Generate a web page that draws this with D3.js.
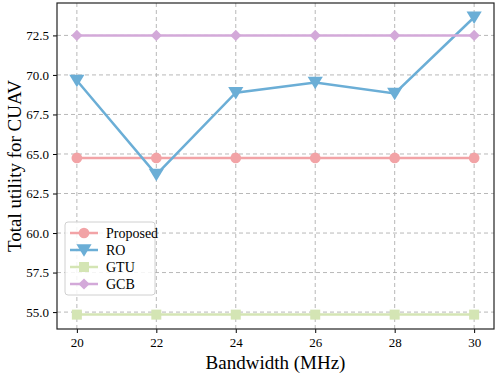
<!DOCTYPE html>
<html>
<head>
<meta charset="utf-8">
<script src="https://cdn.jsdelivr.net/npm/d3@7"></script>
<style>
  body { margin: 0; background: #fff; }
</style>
</head>
<body>
<div id="chart"></div>
<script>
const bandwidth = [20, 22, 24, 26, 28, 30];
const proposed = [64.75, 64.75, 64.75, 64.75, 64.75, 64.75];
const ro = [69.65, 63.7, 68.88, 69.52, 68.83, 73.65];
const gtu = [54.84, 54.84, 54.84, 54.84, 54.84, 54.84];
const gcb = [72.5, 72.5, 72.5, 72.5, 72.5, 72.5];
const yTicks = [55.0, 57.5, 60.0, 62.5, 65.0, 67.5, 70.0, 72.5];

const series = [
  { name: 'Proposed', values: proposed, color: '#f2a3a6', marker: d3.symbolCircle, size: 90 },
  { name: 'RO', values: ro, color: '#6baed6', marker: 'tri', size: 150 },
  { name: 'GTU', values: gtu, color: '#d4e5b4', marker: d3.symbolSquare, size: 100 },
  { name: 'GCB', values: gcb, color: '#d3a9d9', marker: d3.symbolDiamond2, size: 80 }
];

const width = 498, height = 374;
const margin = { top: 3, right: 4, bottom: 45, left: 57 };
const serif = "'Liberation Serif'";

const svg = d3.select('#chart').append('svg')
  .attr('width', width)
  .attr('height', height);

const x = d3.scaleLinear().domain([19.5, 30.5]).range([margin.left, width - margin.right]);
const y = d3.scaleLinear().domain([53.93, 74.55]).range([height - margin.bottom, margin.top]);

// grid
const grid = svg.append('g').attr('stroke', '#b0b0b0').attr('stroke-dasharray', '4,3').attr('stroke-width', 0.9);
grid.selectAll('.gx').data(bandwidth).enter().append('line')
  .attr('x1', d => x(d)).attr('x2', d => x(d))
  .attr('y1', margin.top).attr('y2', height - margin.bottom);
grid.selectAll('.gy').data(yTicks).enter().append('line')
  .attr('y1', d => y(d)).attr('y2', d => y(d))
  .attr('x1', margin.left).attr('x2', width - margin.right);

// axes
svg.append('g')
  .attr('transform', `translate(0,${height - margin.bottom})`)
  .call(d3.axisBottom(x).tickValues(bandwidth).tickSize(4).tickPadding(5).tickFormat(d3.format('d')))
  .call(g => g.select('.domain').remove())
  .selectAll('text')
  .style('font-family', serif)
  .style('font-size', '13px');

svg.append('g')
  .attr('transform', `translate(${margin.left},0)`)
  .call(d3.axisLeft(y).tickValues(yTicks).tickSize(4).tickPadding(4).tickFormat(d3.format('.1f')))
  .call(g => g.select('.domain').remove())
  .selectAll('text')
  .style('font-family', serif)
  .style('font-size', '13px');

const triangle = {
  draw(ctx, size) {
    const h = Math.sqrt(size) * 0.62;
    ctx.moveTo(-h, -h * 0.75);
    ctx.lineTo(h, -h * 0.75);
    ctx.lineTo(0, h * 0.9);
    ctx.closePath();
  }
};

const line = d3.line().x((d, i) => x(bandwidth[i])).y(d => y(d));

series.forEach(s => {
  const g = svg.append('g');
  g.append('path')
    .attr('d', line(s.values))
    .attr('fill', 'none')
    .attr('stroke', s.color)
    .attr('stroke-width', 2.5);
  const sym = d3.symbol().type(s.marker === 'tri' ? triangle : s.marker).size(s.size);
  g.selectAll('path.m').data(s.values).enter().append('path')
    .attr('class', 'm')
    .attr('transform', (d, i) => `translate(${x(bandwidth[i])},${y(d)})`)
    .attr('d', sym)
    .attr('fill', s.color);
});

// frame
svg.append('rect')
  .attr('x', margin.left).attr('y', margin.top)
  .attr('width', width - margin.left - margin.right)
  .attr('height', height - margin.top - margin.bottom)
  .attr('fill', 'none').attr('stroke', '#222').attr('stroke-width', 1.2);

// legend
const legend = svg.append('g').attr('transform', 'translate(65,222)');
legend.append('rect')
  .attr('width', 90).attr('height', 73).attr('rx', 3)
  .attr('fill', 'rgba(255,255,255,0.85)').attr('stroke', '#d0d0d0');
series.forEach((s, i) => {
  const ly = 11 + i * 17;
  legend.append('line')
    .attr('x1', 5).attr('x2', 33).attr('y1', ly).attr('y2', ly)
    .attr('stroke', s.color).attr('stroke-width', 2.5);
  legend.append('path')
    .attr('transform', `translate(19,${ly})`)
    .attr('d', d3.symbol().type(s.marker === 'tri' ? triangle : s.marker).size(s.size))
    .attr('fill', s.color);
  legend.append('text')
    .attr('x', 41).attr('y', ly).attr('dy', '0.35em')
    .style('font-family', serif)
    .style('font-size', '14px')
    .text(s.name);
});

// axis labels
svg.append('text')
  .attr('x', (margin.left + width - margin.right) / 2)
  .attr('y', 369)
  .attr('text-anchor', 'middle')
  .style('font-family', serif)
  .style('font-size', '19px')
  .text('Bandwidth (MHz)');

svg.append('text')
  .attr('transform', `translate(21,${(margin.top + height - margin.bottom) / 2}) rotate(-90)`)
  .attr('text-anchor', 'middle')
  .style('font-family', serif)
  .style('font-size', '19px')
  .text('Total utility for CUAV');
</script>
</body>
</html>
